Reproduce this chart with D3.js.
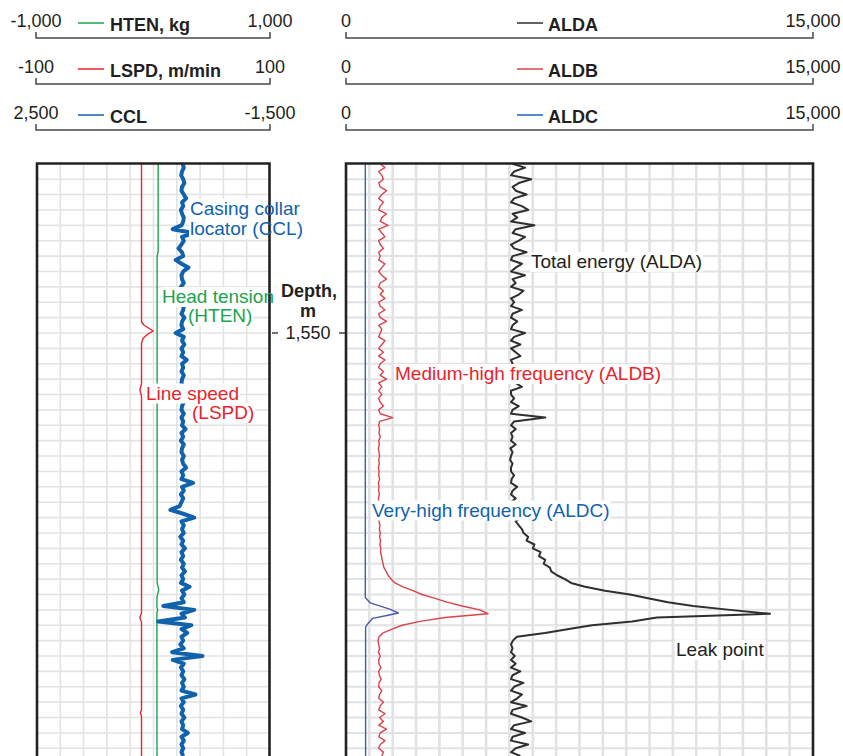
<!DOCTYPE html>
<html>
<head>
<meta charset="utf-8">
<title>Acoustic leak log</title>
<script src="https://cdn.jsdelivr.net/npm/d3@7"></script>
<style>
  body { margin: 0; background: #fff; }
  svg { display: block; font-family: "Liberation Sans", Arial, sans-serif; }
</style>
</head>
<body>
<div id="chart"></div>
<script>
// dense traces are sampled every 0.25 m from 1,539 m
var depthStart = 1539, depthStep = 0.25;

// total energy (ALDA)
var alda = [
  5350, 5750, 5400, 5300, 5950, 5550, 5350, 5450, 5800, 5400,
  5300, 5650, 5850, 5350, 5500, 5300, 6050, 5450, 5350, 5750,
  5550, 5300, 5400, 5800, 5350, 5300, 5650, 5450, 5300, 5750,
  5350, 5450, 5300, 5700, 5550, 5300, 5400, 5300, 5650, 5350,
  5300, 5500, 5350, 5300, 5750, 5400, 5300, 5600, 5300, 5450,
  5600, 5300, 5350, 5300, 5550, 5350, 5300, 5450, 5650, 5300,
  5300, 5400, 5300, 5550, 5350, 5300, 6400, 5400, 5300, 5450,
  5300, 5350, 5300, 5450, 5280, 5350, 5300, 5270, 5350, 5300,
  5300, 5400, 5320, 5300, 5500, 5350, 5300, 5450, 5300, 5550,
  5350, 5400, 5600, 5450, 5550, 5650, 5700, 5850, 5800, 6050,
  6000, 6250, 6200, 6400, 6350, 6550, 6590, 6780, 7030, 7230,
  7680, 8320, 9120, 9700, 10340, 11150, 12330, 13620, 9990, 9190,
  7900, 7160, 6390, 5490, 5360, 5300, 5350, 5300, 5420, 5300,
  5450, 5300, 5600, 5350, 5300, 5700, 5400, 5300, 5650, 5500,
  5300, 5800, 5350, 5300, 5650, 5950, 5400, 5300, 5750, 5350,
  5300, 5850, 5450, 5300, 5600
];

// medium-high frequency (ALDB)
var aldb = [
  1100, 1250, 1050, 1150, 1200, 1050, 1100, 1300, 1150, 1050,
  1200, 1100, 1050, 1300, 1150, 1100, 1350, 1050, 1150, 1250,
  1050, 1100, 1200, 1050, 1100, 1050, 1250, 1150, 1050, 1150,
  1300, 1100, 1050, 1200, 1100, 1250, 1050, 1100, 1250, 1050,
  1100, 1300, 1050, 1150, 1100, 1050, 1250, 1150, 1050, 1200,
  1050, 1250, 1100, 1050, 1200, 1100, 1300, 1050, 1150, 1050,
  1150, 1050, 1100, 1200, 1050, 1100, 1500, 1080, 1050, 1080,
  1060, 1100, 1050, 1070, 1040, 1060, 1080, 1050, 1070, 1040,
  1060, 1050, 1080, 1040, 1060, 1050, 1070, 1040, 1060, 1050,
  1080, 1050, 1080, 1060, 1090, 1070, 1100, 1080, 1110, 1090,
  1120, 1110, 1140, 1160, 1190, 1220, 1290, 1350, 1450, 1570,
  1830, 2150, 2440, 2860, 3240, 3730, 4300, 4560, 3180, 2380,
  1800, 1480, 1190, 1060, 1030, 1050, 1080, 1040, 1100, 1050,
  1060, 1120, 1050, 1070, 1130, 1060, 1050, 1150, 1080, 1050,
  1200, 1100, 1050, 1250, 1080, 1200, 1050, 1300, 1100, 1050,
  1250, 1100, 1050, 1200, 1150
];

// casing collar locator (CCL)
var ccl = [
  0, -20, 10, 25, -10, -30, 10, 20, -20, -60,
  10, -10, 30, 10, -20, -10, 20, 170, -190, 10,
  -20, 20, 70, 10, -10, 120, 20, -100, -10, 20,
  10, -20, 30, 10, -20, 10, 20, -20, -10, 20,
  -30, 10, 20, -10, 120, -20, 10, -30, 20, -10,
  20, -70, 10, -10, 20, -20, 10, 20, -20, 10,
  30, -10, -20, 10, 20, -20, 20, -10, 10, -50,
  20, -10, 30, -20, 10, 20, -20, 10, -10, -60,
  20, -10, 20, -180, 10, -20, 30, -10, 20, 50,
  210, -10, -200, 20, -20, 10, -20, 40, -10, 20,
  -40, 20, -10, 30, -20, 10, -40, 20, -10, 30,
  -120, 10, -30, 20, -20, 330, -200, 20, -40, 420,
  -150, 20, -80, 20, -10, 40, -20, 180, -340, 170,
  -20, 30, -10, 20, -30, 10, -20, 20, -220, 20,
  -20, 30, -10, 20, -30, 20, -10, 10, -90, 20,
  -20, 20, -10, 20, -10
];

// very-high frequency (ALDC): [depth, value]
var aldc = [
  [1539, 620], [1567.2, 620], [1567.55, 780], [1567.95, 1400], [1568.2, 1680],
  [1568.35, 1350], [1568.55, 860], [1568.85, 720], [1569.1, 630], [1577.5, 630]
];

// head tension (HTEN, kg): [depth, value]
var hten = [
  [1539, 40], [1544.7, 40], [1545.0, 31], [1566.25, 31], [1566.7, 45],
  [1567.15, 30], [1567.8, 29], [1568.0, 36], [1568.2, 29], [1577.5, 30]
];

// line speed (LSPD, m/min): [depth, value]
var lspd = [
  [1539, -10.3], [1549.27, -10.3], [1549.48, -8.3], [1549.69, -4], [1549.87, -0.3],
  [1550.07, -4.9], [1550.34, -8.9], [1550.67, -10.3], [1553.3, -10.3], [1553.7, -11.7],
  [1554.1, -10.3], [1568.2, -10.3], [1568.5, -11.7], [1568.8, -10.3], [1574.5, -10.3],
  [1574.7, -11.3], [1574.9, -10.3], [1577.5, -10.3]
];

// header scales
var leftNames = ["HTEN, kg", "LSPD, m/min", "CCL"];
var leftMin = [-1000, -100, 2500];
var leftMax = [1000, 100, -1500];
var rightNames = ["ALDA", "ALDB", "ALDC"];
var rightMin = [0, 0, 0];
var rightMax = [15000, 15000, 15000];
var depthTicks = [1550];

var cGreen = "#1ba34c", cRed = "#e8242c", cBlue = "#1062ad",
    cAldb = "#d8444b", cAldc = "#4a5aa8", cAlda = "#2f2f2f", cText = "#231f20";
var leftColors = [cGreen, cRed, cBlue];
var rightColors = [cAlda, cAldb, "#1a64b4"];

var W = 843, H = 756;
var L0 = 37, L1 = 270, R0 = 346, R1 = 813, trackTop = 163.5;
var rowY = [38, 84, 130];

var fmt = d3.formatLocale({decimal: ".", thousands: ",", grouping: [3], currency: ["", ""], minus: "-"}).format(",");

var svg = d3.select("#chart").append("svg")
  .attr("width", W).attr("height", H);

var y = d3.scaleLinear().domain([1539, 1577.5]).range([163.8, 756]);
var xHten = d3.scaleLinear().domain([leftMin[0], leftMax[0]]).range([L0, L1]);
var xLspd = d3.scaleLinear().domain([leftMin[1], leftMax[1]]).range([L0, L1]);
var xCcl = d3.scaleLinear().domain([leftMin[2], leftMax[2]]).range([L0, L1]);
var xAld = d3.scaleLinear().domain([rightMin[0], rightMax[0]]).range([R0, R1]);

// ---- headers
function header(i, x0, x1, lo, hi, name, color, swX, txX) {
  var g = svg.append("g");
  var yy = rowY[i];
  g.append("path")
    .attr("d", "M" + x0 + "," + (yy - 6) + "V" + yy + "H" + x1 + "V" + (yy - 6))
    .attr("fill", "none").attr("stroke", "#4a4a4a").attr("stroke-width", 1.5);
  g.append("text").attr("x", x0).attr("y", yy - 11.5).attr("text-anchor", "middle")
    .style("font-size", "18px").attr("fill", cText).text(fmt(lo));
  g.append("text").attr("x", x1).attr("y", yy - 11.5).attr("text-anchor", "middle")
    .style("font-size", "18px").attr("fill", cText).text(fmt(hi));
  g.append("line").attr("x1", swX).attr("x2", swX + 26)
    .attr("y1", yy - 15).attr("y2", yy - 15)
    .attr("stroke", color).attr("stroke-width", 1.5);
  g.append("text").attr("x", txX).attr("y", yy - 7)
    .style("font-size", "18px").style("font-weight", "bold").attr("fill", cText).text(name);
}
leftNames.forEach(function (n, i) {
  header(i, L0 - 1, L1, leftMin[i], leftMax[i], n, leftColors[i], 78, 110);
});
rightNames.forEach(function (n, i) {
  header(i, R0, R1, rightMin[i], rightMax[i], n, rightColors[i], 517, 548);
});

// ---- tracks
var defs = svg.append("defs");
defs.append("clipPath").attr("id", "clipL").append("rect")
  .attr("x", L0).attr("y", trackTop).attr("width", L1 - L0).attr("height", H);
defs.append("clipPath").attr("id", "clipR").append("rect")
  .attr("x", R0).attr("y", trackTop).attr("width", R1 - R0).attr("height", H);

var gGrid = svg.append("g");
var gTrace = svg.append("g");
var gBg = svg.append("g");
var gBox = svg.append("g");
var gText = svg.append("g");

var hDepths = d3.range(1540, 1578, 1);
// left grid
gGrid.append("g").selectAll("line").data(hDepths).join("line")
  .attr("x1", L0).attr("x2", L1).attr("y1", function (d) { return y(d); }).attr("y2", function (d) { return y(d); })
  .attr("stroke", "#e3e3e3").attr("stroke-width", 1.6);
gGrid.append("g").selectAll("line").data(d3.range(-800, 1000, 200)).join("line")
  .attr("x1", function (d) { return xHten(d); }).attr("x2", function (d) { return xHten(d); })
  .attr("y1", trackTop).attr("y2", H)
  .attr("stroke", "#e3e3e3").attr("stroke-width", 1.6);
// right grid
gGrid.append("g").selectAll("line").data(hDepths).join("line")
  .attr("x1", R0).attr("x2", R1).attr("y1", function (d) { return y(d); }).attr("y2", function (d) { return y(d); })
  .attr("stroke", "#e2e2e5").attr("stroke-width", 2);
gGrid.append("g").selectAll("line").data(d3.range(750, 15000, 750)).join("line")
  .attr("x1", function (d) { return xAld(d); }).attr("x2", function (d) { return xAld(d); })
  .attr("y1", trackTop).attr("y2", H)
  .attr("stroke", "#e2e2e5").attr("stroke-width", 2.6);

function dense(arr) {
  return arr.map(function (v, i) { return [depthStart + i * depthStep, v]; });
}
function drawTrace(data, xs, color, width, clip) {
  gTrace.append("path")
    .datum(data)
    .attr("clip-path", "url(#" + clip + ")")
    .attr("fill", "none")
    .attr("stroke", color)
    .attr("stroke-width", width)
    .attr("stroke-linejoin", "round")
    .attr("d", d3.line().x(function (d) { return xs(d[1]); }).y(function (d) { return y(d[0]); }));
}
drawTrace(lspd, xLspd, cRed, 1.4, "clipL");
drawTrace(hten, xHten, cGreen, 1.4, "clipL");
drawTrace(dense(ccl), xCcl, cBlue, 4, "clipL");
drawTrace(aldc, xAld, cAldc, 1.4, "clipR");
drawTrace(dense(aldb), xAld, cAldb, 1.4, "clipR");
drawTrace(dense(alda), xAld, cAlda, 2, "clipR");

// borders
gBox.append("path")
  .attr("d", "M" + L0 + "," + (H + 5) + "V" + trackTop + "H" + (L1 - 0.5) + "V" + (H + 5))
  .attr("fill", "none").attr("stroke", "#222").attr("stroke-width", 2.6);
gBox.append("path")
  .attr("d", "M" + R0 + "," + (H + 5) + "V" + trackTop + "H" + R1 + "V" + (H + 5))
  .attr("fill", "none").attr("stroke", "#222").attr("stroke-width", 2.6);

// annotations (label, x, baseline, colour)
var notes = [
  ["Casing collar", 190, 214.5, cBlue],
  ["locator (CCL)", 190, 234.5, cBlue],
  ["Head tension", 162, 303, cGreen],
  ["(HTEN)", 188, 322, cGreen],
  ["Line speed", 146, 399.5, cRed],
  ["(LSPD)", 192, 419, cRed],
  ["Total energy (ALDA)", 531, 268, cText],
  ["Medium-high frequency (ALDB)", 395, 380, cRed],
  ["Very-high frequency (ALDC)", 372, 516.5, cBlue],
  ["Leak point", 676, 656, cText]
];
notes.forEach(function (n) {
  var t = gText.append("text").attr("x", n[1]).attr("y", n[2])
    .attr("fill", n[3]).style("font-size", "19px").text(n[0]);
  var b = t.node().getBBox();
  gBg.append("rect").attr("x", b.x - 1).attr("y", b.y + 1)
    .attr("width", b.width + 2).attr("height", b.height - 1).attr("fill", "#fff");
});

// depth axis
var gD = svg.append("g");
gD.selectAll(".tl").data(depthTicks).join("line")
  .attr("x1", L1 + 2).attr("x2", L1 + 8)
  .attr("y1", function (d) { return y(d); }).attr("y2", function (d) { return y(d); })
  .attr("stroke", "#222").attr("stroke-width", 1.3);
gD.selectAll(".tr").data(depthTicks).join("line")
  .attr("x1", R0 - 7).attr("x2", R0 - 1)
  .attr("y1", function (d) { return y(d); }).attr("y2", function (d) { return y(d); })
  .attr("stroke", "#222").attr("stroke-width", 1.3);
gD.selectAll(".tt").data(depthTicks).join("text")
  .attr("x", (L1 + R0) / 2).attr("y", function (d) { return y(d) + 6; })
  .attr("text-anchor", "middle").style("font-size", "18px").attr("fill", cText)
  .text(function (d) { return fmt(d); });
gD.append("text").attr("x", (L1 + R0) / 2 + 1).attr("y", 297).attr("text-anchor", "middle")
  .style("font-size", "18px").style("font-weight", "bold").attr("fill", cText).text("Depth,");
gD.append("text").attr("x", (L1 + R0) / 2).attr("y", 317).attr("text-anchor", "middle")
  .style("font-size", "18px").style("font-weight", "bold").attr("fill", cText).text("m");
</script>
</body>
</html>
